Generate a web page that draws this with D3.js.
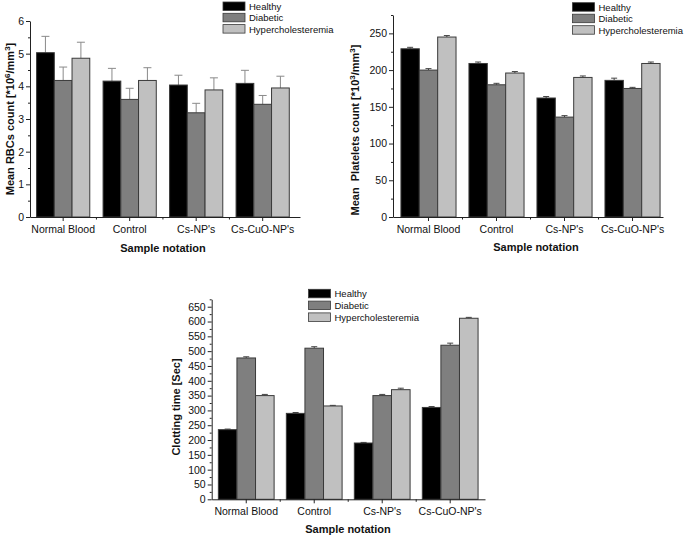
<!DOCTYPE html>
<html>
<head>
<meta charset="utf-8">
<script src="https://cdn.jsdelivr.net/npm/d3@7"></script>
<style>
  html, body { margin: 0; padding: 0; background: #fff; }
  svg { display: block; font-family: "Liberation Sans", Arial, sans-serif; }
</style>
</head>
<body>
<svg id="chart" width="685" height="536"></svg>
<script>
const categories = ["Normal Blood", "Control", "Cs-NP's", "Cs-CuO-NP's"];
const seriesNames = ["Healthy", "Diabetic", "Hypercholesteremia"];
const seriesColors = ["#000000", "#7f7f7f", "#c0c0c0"];

// RBC count [*10^6/mm^3]
const rbcHealthy = [5.03, 4.16, 4.04, 4.09];
const rbcHealthyErr = [0.50, 0.39, 0.30, 0.40];
const rbcDiabetic = [4.18, 3.60, 3.19, 3.45];
const rbcDiabeticErr = [0.41, 0.34, 0.29, 0.27];
const rbcHyper = [4.86, 4.18, 3.89, 3.95];
const rbcHyperErr = [0.49, 0.39, 0.37, 0.36];
const rbcTicks = [0, 1, 2, 3, 4, 5, 6];

// Platelets count [*10^3/mm^3]
const pltHealthy = [229, 209, 162, 186];
const pltHealthyErr = [2, 2, 2, 3];
const pltDiabetic = [200, 180, 136, 175];
const pltDiabeticErr = [2, 2, 2, 1.5];
const pltHyper = [245, 196, 190, 209];
const pltHyperErr = [2, 2, 2, 2];
const pltTicks = [0, 50, 100, 150, 200, 250];

// Clotting time [Sec]
const clotHealthy = [235, 290, 190, 310];
const clotHealthyErr = [2, 3, 2, 3];
const clotDiabetic = [477, 510, 350, 520];
const clotDiabeticErr = [4, 5, 4, 7];
const clotHyper = [350, 315, 370, 611];
const clotHyperErr = [4, 2, 5, 3];
const clotTicks = [0, 50, 100, 150, 200, 250, 300, 350, 400, 450, 500, 550, 600, 650];

const svg = d3.select("#chart");

function drawChart(cfg) {
  const g = svg.append("g");
  const x = d3.scaleBand().domain(categories).range(cfg.xRange)
    .paddingInner(cfg.pi).paddingOuter(cfg.po).align(cfg.align);
  const xs = d3.scaleBand().domain(seriesNames).range([0, x.bandwidth()]);
  const y = d3.scaleLinear().domain(cfg.yDomain).range(cfg.yRange);

  const rows = categories.map((c, i) => ({
    cat: c,
    vals: seriesNames.map((s, j) => ({ s, j, v: cfg.values[j][i], e: cfg.errors[j][i] }))
  }));

  const grp = g.selectAll("g.grp").data(rows).join("g")
    .attr("transform", d => `translate(${x(d.cat)},0)`);

  // error bars (upper only)
  grp.selectAll("g.err").data(d => d.vals).join("g").each(function(d) {
    const cx = xs(d.s) + xs.bandwidth() / 2;
    const e = d3.select(this);
    e.append("line").attr("x1", cx).attr("x2", cx)
      .attr("y1", y(d.v)).attr("y2", y(d.v + d.e))
      .attr("stroke", cfg.errColor).attr("stroke-width", 1);
    e.append("line").attr("x1", cx - cfg.cap).attr("x2", cx + cfg.cap)
      .attr("y1", y(d.v + d.e)).attr("y2", y(d.v + d.e))
      .attr("stroke", cfg.errColor).attr("stroke-width", 1);
  });

  grp.selectAll("rect").data(d => d.vals).join("rect")
    .attr("x", d => xs(d.s))
    .attr("width", xs.bandwidth())
    .attr("y", d => y(d.v))
    .attr("height", d => y(0) - y(d.v))
    .attr("fill", d => seriesColors[d.j])
    .attr("stroke", "#3a3a3a")
    .attr("stroke-width", 1);

  // y axis
  const yAxis = g.append("g").attr("transform", `translate(${cfg.xRange[0]},0)`)
    .call(d3.axisLeft(y).tickValues(cfg.ticks).tickFormat(d3.format("d"))
      .tickSize(4).tickSizeOuter(0).tickPadding(2));
  const minor = d3.range(cfg.yDomain[0], cfg.yDomain[1] + 1e-9, cfg.minorStep)
    .filter(v => !cfg.ticks.some(t => Math.abs(t - v) < 1e-9));
  g.append("g").attr("transform", `translate(${cfg.xRange[0]},0)`)
    .call(d3.axisLeft(y).tickValues(minor).tickSize(2).tickFormat(""))
    .call(a => a.select(".domain").remove())
    .call(a => a.selectAll("line").attr("stroke", "#222"));

  // x axis
  const xAxis = g.append("g").attr("transform", `translate(0,${y(0)})`)
    .call(d3.axisBottom(x).tickSize(4).tickSizeOuter(0).tickPadding(4.5));
  const mids = categories.slice(1).map(c => x(c) - (x.step() - x.bandwidth()) / 2);
  xAxis.selectAll("line.minor").data(mids).join("line").attr("class", "minor")
    .attr("x1", d => d).attr("x2", d => d).attr("y1", 0).attr("y2", 2.5)
    .attr("stroke", "#222");

  [yAxis, xAxis].forEach(a => {
    a.selectAll("text").attr("font-size", "10.5px").attr("fill", "#111")
      .attr("font-family", "'Liberation Sans', Arial, sans-serif");
    a.selectAll("line").attr("stroke", "#222");
    a.select(".domain").attr("stroke", "#222");
  });

  // axis titles
  g.append("text").attr("x", cfg.xTitle[0]).attr("y", cfg.xTitle[1])
    .attr("text-anchor", "middle").attr("font-weight", "bold").attr("font-size", "11px")
    .attr("fill", "#111").text("Sample notation");

  const yt = g.append("text")
    .attr("transform", `translate(${cfg.yTitle[0]},${cfg.yTitle[1]}) rotate(-90)`)
    .attr("text-anchor", "middle").attr("font-weight", "bold").attr("font-size", "11px")
    .attr("fill", "#111").attr("xml:space", "preserve");
  cfg.yLabelParts.forEach(p => {
    const t = yt.append("tspan").text(p.t);
    if (p.sup) t.attr("font-size", "8px").attr("dy", "-4");
    if (p.down) t.attr("dy", "4");
  });

  // legend
  const lg = g.append("g").attr("transform", `translate(${cfg.legend[0]},${cfg.legend[1]})`);
  seriesNames.forEach((s, j) => {
    lg.append("rect").attr("x", 0).attr("y", j * cfg.legendStep).attr("width", 22).attr("height", 8.5)
      .attr("fill", seriesColors[j]).attr("stroke", "#3a3a3a").attr("stroke-width", 0.8);
    lg.append("text").attr("x", 26).attr("y", j * cfg.legendStep + 8)
      .attr("font-size", "9.5px").attr("fill", "#111").text(s);
  });
}

drawChart({
  xRange: [30, 300], pi: 0.2, po: 0.13, align: 0.38,
  yDomain: [0, 6], yRange: [217, 21], ticks: rbcTicks, minorStep: 0.5,
  values: [rbcHealthy, rbcDiabetic, rbcHyper],
  errors: [rbcHealthyErr, rbcDiabeticErr, rbcHyperErr],
  errColor: "#8a8a8a", cap: 4,
  xTitle: [163, 252], yTitle: [14, 119],
  yLabelParts: [{t: "Mean RBCs count [*10"}, {t: "6", sup: true}, {t: "/mm", down: true}, {t: "3", sup: true}, {t: "]", down: true}],
  legend: [223, 2], legendStep: 11.3
});

drawChart({
  xRange: [393, 663], pi: 0.19, po: 0.08, align: 0.73,
  yDomain: [0, 275], yRange: [217, 15], ticks: pltTicks, minorStep: 25,
  values: [pltHealthy, pltDiabetic, pltHyper],
  errors: [pltHealthyErr, pltDiabeticErr, pltHyperErr],
  errColor: "#444", cap: 3,
  xTitle: [536, 251], yTitle: [359, 130],
  yLabelParts: [{t: "Mean  Platelets count [*10"}, {t: "3", sup: true}, {t: "/mm", down: true}, {t: "3", sup: true}, {t: "]", down: true}],
  legend: [572.5, 2.7], legendStep: 11.5
});

drawChart({
  xRange: [211.7, 485], pi: 0.18, po: 0.1, align: 0.49,
  yDomain: [0, 675], yRange: [499.3, 299.3], ticks: clotTicks, minorStep: 25,
  values: [clotHealthy, clotDiabetic, clotHyper],
  errors: [clotHealthyErr, clotDiabeticErr, clotHyperErr],
  errColor: "#444", cap: 3,
  xTitle: [348, 533], yTitle: [180, 407],
  yLabelParts: [{t: "Clotting time [Sec]"}],
  legend: [308.5, 289.3], legendStep: 11.8
});
</script>
</body>
</html>
